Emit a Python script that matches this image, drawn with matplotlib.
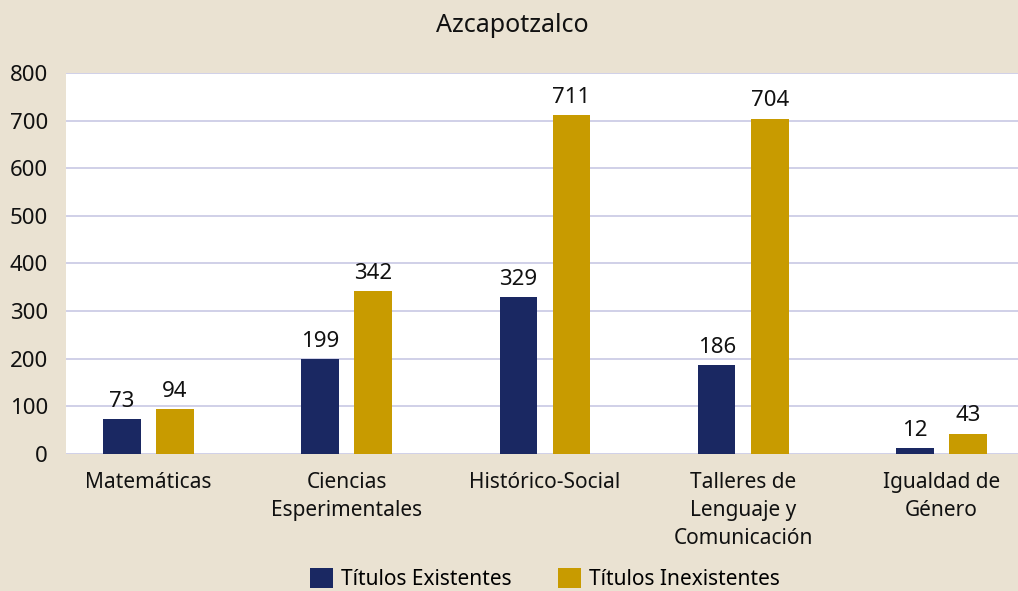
import numpy as np
import matplotlib
matplotlib.use('Agg')
import matplotlib.pyplot as plt

plt.rcParams['font.family'] = ['Noto Sans', 'DejaVu Sans']

# ==================== 数据 ====================
categories = ['Matemáticas', 'Ciencias\nEsperimentales', 'Histórico-Social',
              'Talleres de\nLenguaje y\nComunicación', 'Igualdad de\nGénero']
existentes = [73, 199, 329, 186, 12]
inexistentes = [94, 342, 711, 704, 43]
series_names = ['Títulos Existentes', 'Títulos Inexistentes']
yticks = [0, 100, 200, 300, 400, 500, 600, 700, 800]

bg = '#EAE2D2'
navy = '#1A2862'
gold = '#C89B00'
fs = 15

fig = plt.figure(figsize=(10.18, 5.91), dpi=100, facecolor=bg)
ax = fig.add_axes([66 / 1018, 137 / 591, 952 / 1018, 381 / 591])
ax.set_facecolor('white')

x = np.arange(len(categories))
w = 0.19
off = 0.134
b1 = ax.bar(x - off, existentes, w, color=navy, label=series_names[0], zorder=3)
b2 = ax.bar(x + off, inexistentes, w, color=gold, label=series_names[1], zorder=3)
for bars in (b1, b2):
    for bar in bars:
        ax.text(bar.get_x() + bar.get_width() / 2, bar.get_height() + 16,
                f'{int(bar.get_height())}', ha='center', va='bottom', fontsize=fs + 1, color='#111111')

ax.set_xlim(-0.416, 4.386)
ax.set_ylim(0, 800)
ax.set_yticks(yticks)
ax.set_yticklabels([str(v) for v in yticks], fontsize=fs + 1, color='#111111')
ax.set_xticks(x)
ax.set_xticklabels(categories, fontsize=fs, color='#111111', linespacing=1.45)
ax.tick_params(length=0, axis='y', pad=13)
ax.tick_params(length=0, axis='x', pad=13)
ax.grid(axis='y', color='#C8C8E4', linewidth=1.2, zorder=0)
for s in ax.spines.values():
    s.set_visible(False)

fig.text(512 / 1018, 1 - 25 / 591, 'Azcapotzalco', ha='center', va='center', fontsize=18, color='#111111')

fig.legend(handles=[b1, b2], loc='center', bbox_to_anchor=(545 / 1018, 1 - 579 / 591), ncol=2,
           frameon=False, fontsize=fs, handlelength=1.1, handleheight=1.1,
           columnspacing=2.2, handletextpad=0.4, borderpad=0)

fig.savefig('out.png', dpi=100, facecolor=bg)
